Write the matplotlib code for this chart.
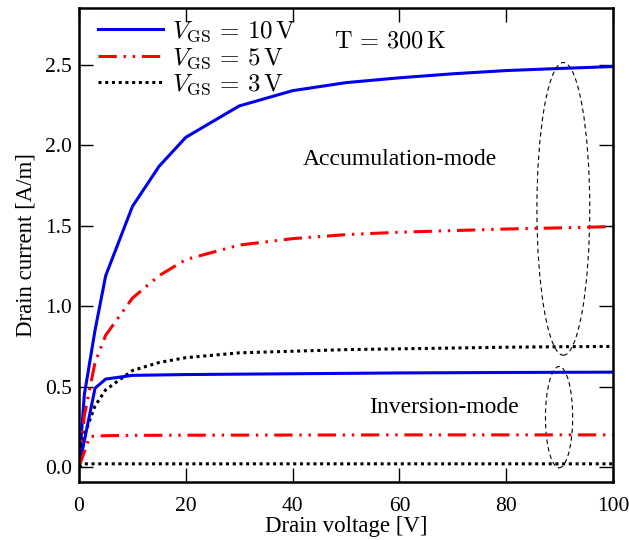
import matplotlib
matplotlib.use("Agg")
import matplotlib.pyplot as plt
from matplotlib.patches import Ellipse

plt.rcParams['font.family'] = ['Liberation Serif', 'DejaVu Serif']
plt.rcParams['mathtext.fontset'] = 'cm'

# Accumulation-mode
x_acc10 = [0, 1, 3, 5, 10, 15, 20, 30, 40, 50, 60, 70, 80, 90, 100]
y_acc10 = [0, 0.45, 0.85, 1.19, 1.62, 1.87, 2.05, 2.245, 2.34, 2.39, 2.42, 2.445, 2.465, 2.478, 2.49]
x_acc5 = [0, 1, 3, 5, 10, 15, 20, 30, 40, 50, 60, 70, 80, 90, 100]
y_acc5 = [0, 0.32, 0.65, 0.82, 1.05, 1.19, 1.29, 1.38, 1.42, 1.445, 1.46, 1.47, 1.48, 1.487, 1.495]
x_acc3 = [0, 1, 3, 5, 10, 15, 20, 30, 40, 50, 60, 70, 80, 90, 100]
y_acc3 = [0, 0.2, 0.38, 0.48, 0.6, 0.65, 0.68, 0.71, 0.72, 0.73, 0.735, 0.74, 0.745, 0.748, 0.75]
# Inversion-mode
x_inv10 = [0, 3, 5, 10, 20, 40, 60, 80, 100]
y_inv10 = [0, 0.49, 0.547, 0.57, 0.575, 0.58, 0.585, 0.588, 0.59]
x_inv5 = [0, 2, 5, 10, 20, 40, 60, 80, 100]
y_inv5 = [0, 0.19, 0.195, 0.197, 0.198, 0.199, 0.2, 0.2, 0.2]
x_inv3 = [0, 1, 5, 20, 40, 60, 80, 100]
y_inv3 = [0, 0.02, 0.02, 0.02, 0.02, 0.02, 0.02, 0.02]

labels = [r'$V_{\mathrm{GS}}\,=\,10\,\mathrm{V}$', r'$V_{\mathrm{GS}}\,=\,5\,\mathrm{V}$', r'$V_{\mathrm{GS}}\,=\,3\,\mathrm{V}$']

fig = plt.figure(figsize=(6.29, 5.4), dpi=100)
ax = fig.add_axes([79/629, 58/540, 534/629, 474/540])

blue = '#0000ee'
red = '#ff0000'
dd = (0, (6, 2.2, 0.8, 2.2, 0.8, 2.2))
dot = (0, (1, 1.2))

ax.plot(x_acc10, y_acc10, color=blue, lw=2.2, label=labels[0])
ax.plot(x_acc5, y_acc5, color=red, lw=2.2, ls=dd, label=labels[1])
ax.plot(x_acc3, y_acc3, color='black', lw=2.2, ls=dot, label=labels[2])
ax.plot(x_inv10, y_inv10, color=blue, lw=2.2)
ax.plot(x_inv5, y_inv5, color=red, lw=2.2, ls=dd)
ax.plot(x_inv3, y_inv3, color='black', lw=2.2, ls=dot)

ax.add_patch(Ellipse((90.7, 1.605), 9.9, 1.82, fill=False, ls=(0, (4, 3)), lw=0.8, color='black'))
ax.add_patch(Ellipse((89.9, 0.31), 5.1, 0.63, fill=False, ls=(0, (4, 3)), lw=0.8, color='black'))

ax.text(60.1, 1.91, 'Accumulation-mode', ha='center', va='center', fontsize=17)
ax.text(68.4, 0.37, 'Inversion-mode', ha='center', va='center', fontsize=17)
ax.text(58.2, 2.64, r'$\mathrm{T}\,=\,300\,\mathrm{K}$', ha='center', va='center', fontsize=17.5)

ax.set_xlim(0, 100)
ax.set_ylim(-0.093, 2.854)
ax.set_xticks([0, 20, 40, 60, 80, 100])
ax.set_yticks([0.0, 0.5, 1.0, 1.5, 2.0, 2.5])
ax.set_yticklabels(['0.0', '0.5', '1.0', '1.5', '2.0', '2.5'])
ax.tick_params(direction='in', length=10, width=1, top=True, right=True, labelsize=15.5)
ax.tick_params(axis='x', pad=11)
ax.tick_params(axis='y', pad=5)
for s in ax.spines.values():
    s.set_linewidth(1.8)

ax.set_xlabel('Drain voltage [V]', fontsize=16.5, labelpad=0)
ax.set_ylabel('Drain current [A/m]', fontsize=16.5, labelpad=6)

ax.legend(loc='upper left', bbox_to_anchor=(0.01, 1.004), frameon=False, fontsize=18, handlelength=2.6,
          borderaxespad=0.15, labelspacing=0.07, handletextpad=0.36, borderpad=0.4)

fig.savefig('out.png', dpi=100)
